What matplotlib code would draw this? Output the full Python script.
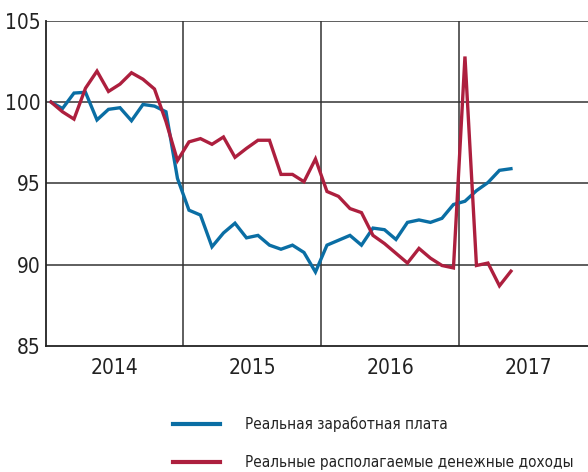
import matplotlib
matplotlib.use("Agg")
import matplotlib.pyplot as plt
import numpy as np

plt.rcParams['font.family'] = ['DejaVu Sans']
plt.rcParams['font.stretch'] = 'condensed'

# Monthly index, January 2014 = 100 (Jan 2014 .. May 2017)
wages = [100.0, 99.6, 100.55, 100.6, 98.9, 99.55, 99.65, 98.85, 99.85, 99.75, 99.4, 95.3,
         93.35, 93.05, 91.1, 91.95, 92.55, 91.65, 91.8, 91.2, 90.95, 91.2, 90.75, 89.55,
         91.2, 91.5, 91.8, 91.2, 92.25, 92.15, 91.55, 92.6, 92.75, 92.6, 92.85, 93.7,
         93.9, 94.55, 95.05, 95.8, 95.9]
income = [100.0, 99.4, 98.95, 100.85, 101.9, 100.65, 101.1, 101.8, 101.4, 100.8, 98.8, 96.4,
          97.55, 97.75, 97.4, 97.85, 96.6, 97.15, 97.65, 97.65, 95.55, 95.55, 95.1, 96.5,
          94.5, 94.2, 93.45, 93.2, 91.8, 91.3, 90.7, 90.1, 91.0, 90.4, 89.95, 89.8,
          102.8, 89.95, 90.1, 88.7, 89.6]
years = ['2014', '2015', '2016', '2017']
yticks = [85, 90, 95, 100, 105]
labels = ['Реальная заработная плата', 'Реальные располагаемые денежные доходы']
colors = ['#0a6ea4', '#ad1f3e']

months = np.arange(len(wages))

fig = plt.figure(figsize=(5.88, 4.72), dpi=100)
ax = fig.add_axes([45.7 / 588, 1 - 346 / 472, 1 - 45.7 / 588, (346 - 20.7) / 472])

grid_c = '#333333'
for y in yticks[1:]:
    ax.axhline(y, color=grid_c, lw=1.1, zorder=1)
for k in range(1, len(years)):
    ax.axvline(12 * k - 0.5, color=grid_c, lw=1.1, zorder=1)

ax.plot(months, wages, color=colors[0], lw=2.4, label=labels[0], zorder=3,
        solid_joinstyle='miter')
ax.plot(months, income, color=colors[1], lw=2.4, label=labels[1], zorder=3,
        solid_joinstyle='miter')

ax.set_xlim(-0.46, 46.7)
ax.set_ylim(85, 105)
ax.set_yticks(yticks)
ax.set_yticklabels([str(v) for v in yticks], fontsize=15)
ax.set_xticks([12 * k + 5.5 for k in range(len(years))])
ax.set_xticklabels(years, fontsize=15)
ax.tick_params(axis='both', length=0, colors='#222222')
ax.tick_params(axis='y', pad=4)
ax.tick_params(axis='x', pad=9)

for s in ['top', 'right']:
    ax.spines[s].set_visible(False)
for s in ['left', 'bottom']:
    ax.spines[s].set_color('#222222')
    ax.spines[s].set_linewidth(1.3)

leg = ax.legend(loc='upper left', bbox_to_anchor=(159 / 588, 1 - 403 / 472),
                bbox_transform=fig.transFigure, frameon=False, fontsize=11,
                handlelength=3.1, handletextpad=1.6, labelspacing=1.5)
for t in leg.get_texts():
    t.set_color('#222222')
for h in leg.get_lines():
    h.set_linewidth(3)

fig.savefig('out.png', dpi=100)
